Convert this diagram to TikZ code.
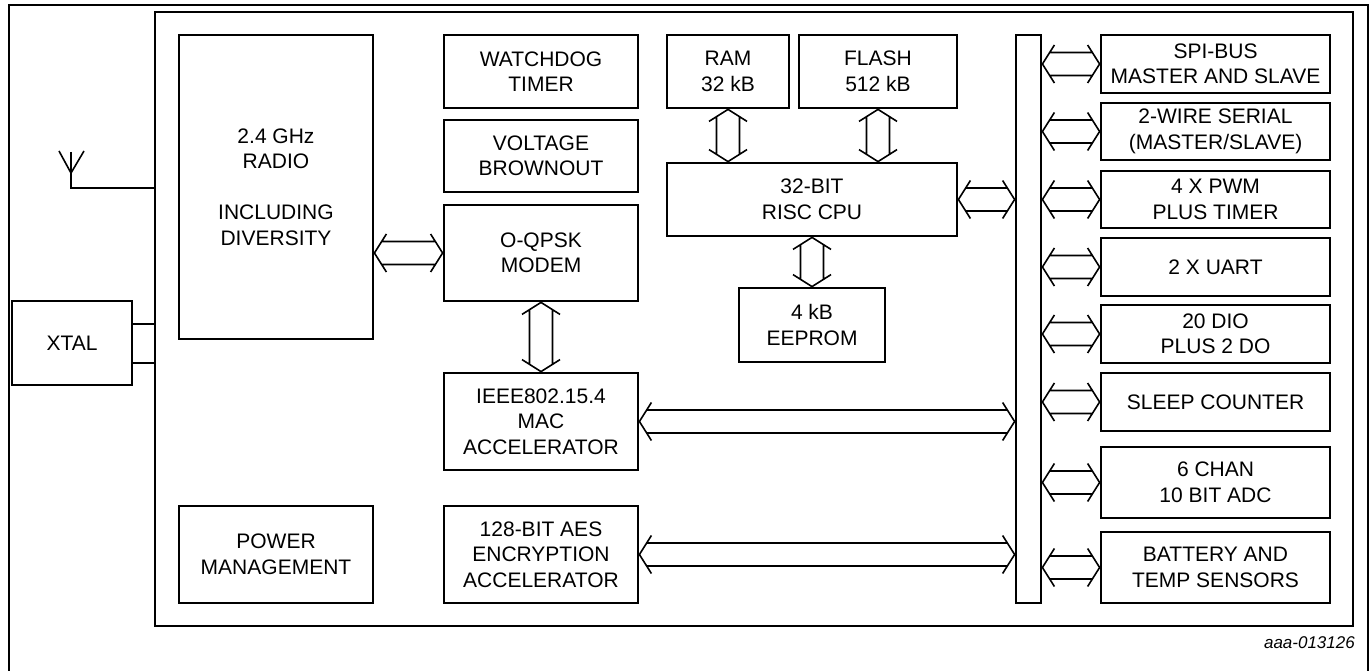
\documentclass[tikz,border=0pt]{standalone}
\usepackage{fontspec}
\setmainfont{Liberation Sans}
\usetikzlibrary{calc}
\newcommand{\harr}[2]{%
  \draw[dbl] let \p1=#1, \p2=#2 in
    (\x1+12pt,\y1+19pt) -- (\x1,\y1) -- (\x1+12pt,\y1-19pt)
    (\x2-12pt,\y2+19pt) -- (\x2,\y2) -- (\x2-12pt,\y2-19pt)
    (\x1+7.3pt,\y1+11.5pt) -- (\x2-7.3pt,\y2+11.5pt)
    (\x1+7.3pt,\y1-11.5pt) -- (\x2-7.3pt,\y2-11.5pt);}
\newcommand{\varr}[2]{%
  \draw[dbl] let \p1=#1, \p2=#2 in
    (\x1-19pt,\y1-12pt) -- (\x1,\y1) -- (\x1+19pt,\y1-12pt)
    (\x2-19pt,\y2+12pt) -- (\x2,\y2) -- (\x2+19pt,\y2+12pt)
    (\x1-11.5pt,\y1-7.3pt) -- (\x2-11.5pt,\y2+7.3pt)
    (\x1+11.5pt,\y1-7.3pt) -- (\x2+11.5pt,\y2+7.3pt);}
\begin{document}
\begin{tikzpicture}[x=1pt,y=-1pt,
  box/.style={draw, line width=2.8pt, align=center, inner sep=0pt,
    font=\fontsize{21}{25.5}\selectfont},
  frame/.style={draw, line width=2.3pt, inner sep=0pt},
  dbl/.style={line width=1.6pt, line join=miter},
  wire/.style={line width=1.6pt}]
\useasboundingbox (0,0) rectangle (1370,671);
% outer frame
\draw[line width=2pt] (8.5,675) -- (8.5,5) -- (1368,5) -- (1368,675);
% chip frame
\node[frame, minimum width=1198pt, minimum height=614pt] (chip) at (754,319) {};
% left blocks
\node[box, minimum width=194pt, minimum height=304pt] (radio) at (276,187)
  {2.4 GHz\\RADIO\\[25.5pt]INCLUDING\\DIVERSITY};
\node[box, minimum width=194pt, minimum height=97pt] (power) at (276,554.5) {POWER\\MANAGEMENT};
\node[box, minimum width=194pt, minimum height=73pt] (wdog) at (541,71.5) {WATCHDOG\\TIMER};
\node[box, minimum width=194pt, minimum height=72pt] (volt) at (541,156) {VOLTAGE\\BROWNOUT};
\node[box, minimum width=194pt, minimum height=96pt] (oqpsk) at (541,253) {O-QPSK\\MODEM};
\node[box, minimum width=194pt, minimum height=97pt] (ieee) at (541,421.5) {IEEE802.15.4\\MAC\\ACCELERATOR};
\node[box, minimum width=194pt, minimum height=97pt] (aes) at (541,554.5) {128-BIT AES\\ENCRYPTION\\ACCELERATOR};
% memory and cpu
\node[box, minimum width=122pt, minimum height=73pt] (ram) at (728,71.5) {RAM\\32 kB};
\node[box, minimum width=158pt, minimum height=73pt] (flash) at (878,71.5) {FLASH\\512 kB};
\node[box, minimum width=290pt, minimum height=73pt] (cpu) at (812,199.5) {32-BIT\\RISC CPU};
\node[box, minimum width=146pt, minimum height=74pt] (eeprom) at (812,325) {4 kB\\EEPROM};
% bus
\node[box, minimum width=25pt, minimum height=568pt] (bus) at (1028.5,319) {};
% peripherals
\node[box, minimum width=229pt, minimum height=58pt] (spi) at (1215.5,64) {SPI-BUS\\MASTER AND SLAVE};
\node[box, minimum width=229pt, minimum height=57pt] (twi) at (1215.5,131.5) {2-WIRE SERIAL\\(MASTER/SLAVE)};
\node[box, minimum width=229pt, minimum height=57pt] (pwm) at (1215.5,199.5) {4 X PWM\\PLUS TIMER};
\node[box, minimum width=229pt, minimum height=58pt] (uart) at (1215.5,267) {2 X UART};
\node[box, minimum width=229pt, minimum height=58pt] (dio) at (1215.5,334) {20 DIO\\PLUS 2 DO};
\node[box, minimum width=229pt, minimum height=58pt] (sleep) at (1215.5,402) {SLEEP COUNTER};
\node[box, minimum width=229pt, minimum height=71pt] (adc) at (1215.5,482.5) {6 CHAN\\10 BIT ADC};
\node[box, minimum width=229pt, minimum height=71pt] (batt) at (1215.5,567.5) {BATTERY AND\\TEMP SENSORS};
% xtal
\node[box, minimum width=120pt, minimum height=84pt] (xtal) at (72,343) {XTAL};
\coordinate (xa) at (132,324);
\coordinate (xb) at (132,363);
\draw[wire] (xtal.east |- xa) -- (chip.west |- xa);
\draw[wire] (xtal.east |- xb) -- (chip.west |- xb);
% antenna
\coordinate (anttop) at (71,152);
\coordinate (antfoot) at (71,188);
\draw[wire] (59,151) -- (71,173) -- (84,151);
\draw[wire] (anttop) -- (antfoot) -- (chip.west |- antfoot);
% double arrows
\harr{(radio.east |- oqpsk.west)}{(oqpsk.west)}
\varr{(ram.south)}{(ram.south |- cpu.north)}
\varr{(flash.south)}{(flash.south |- cpu.north)}
\varr{(cpu.south)}{(eeprom.north)}
\varr{(oqpsk.south)}{(ieee.north)}
\harr{(cpu.east)}{(bus.west |- cpu.east)}
\harr{(ieee.east)}{(bus.west |- ieee.east)}
\harr{(aes.east)}{(bus.west |- aes.east)}
\foreach \q in {spi,twi,pwm,uart,dio,sleep,adc,batt}{
  \harr{(bus.east |- \q.west)}{(\q.west)}
}
% figure code
\node[font=\itshape\fontsize{17}{20}\selectfont, anchor=base east, inner sep=0pt] (code) at (1355,648) {aaa-013126};
\end{tikzpicture}
\end{document}
